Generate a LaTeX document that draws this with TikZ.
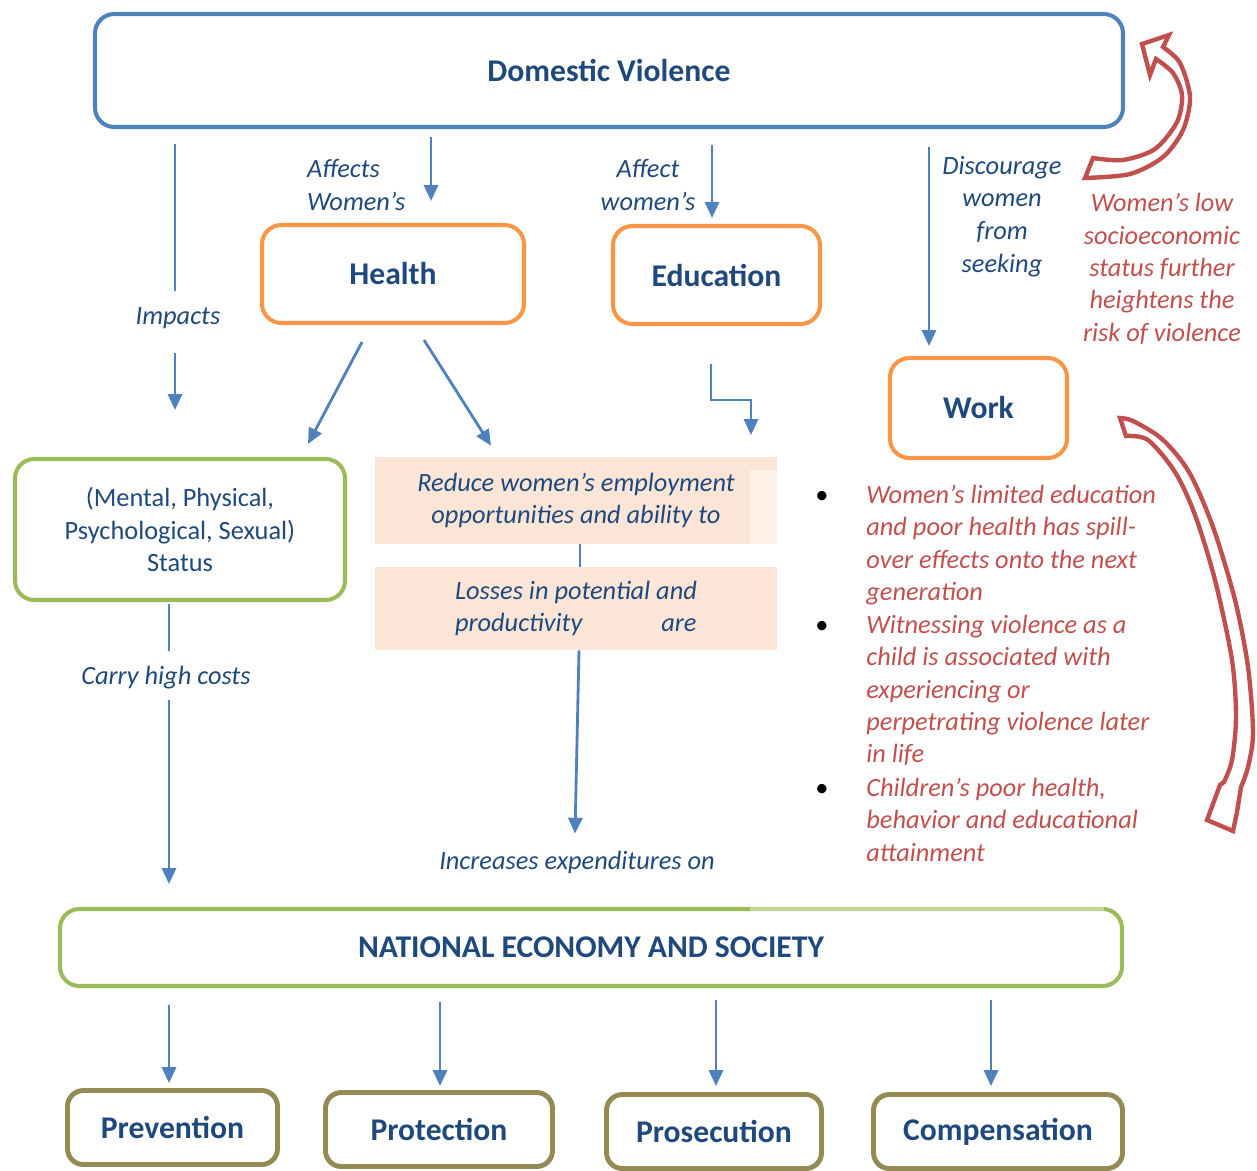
\documentclass[tikz,border=0pt]{standalone}
\usepackage{fontspec}
\setmainfont{Carlito}
\usetikzlibrary{positioning}
\usetikzlibrary{calc}
\usetikzlibrary{arrows.meta}
\definecolor{dvblue}{HTML}{4F81BD}
\definecolor{dvtext}{HTML}{1F497D}
\definecolor{dvorange}{HTML}{F79646}
\definecolor{dvgreen}{HTML}{9BBB59}
\definecolor{dvlight}{HTML}{C3D69B}
\definecolor{dvolive}{HTML}{948A54}
\definecolor{dvred}{HTML}{C0504D}
\definecolor{dvpeach}{HTML}{FBE5D6}
\definecolor{dvpeachlt}{HTML}{FDF1E8}
\newdimen\pxu \pxu=0.02cm
\newcommand{\lblfont}{\fontsize{15}{18.7}\selectfont\itshape}
\tikzset{>={Triangle[length=9pt,width=8pt]}}
\tikzset{
  box/.style={rectangle, rounded corners=11pt, fill=white, inner sep=0pt, text=dvtext,
    font=\fontsize{18}{22}\selectfont\bfseries},
  topbox/.style={box, draw=dvblue, line width=2.3pt},
  midbox/.style={box, draw=dvorange, line width=2.3pt},
  greenbox/.style={box, draw=dvgreen, line width=2.3pt},
  endbox/.style={box, draw=dvolive, line width=2.8pt, rounded corners=9pt},
  peachbox/.style={rectangle, fill=dvpeach, inner sep=0pt, text=dvtext, font=\lblfont},
  lbl/.style={text=dvtext, font=\lblfont, inner sep=1pt, align=center},
  redlbl/.style={text=dvred, font=\fontsize{15}{18.4}\selectfont\itshape, inner sep=0pt},
  conn/.style={draw=dvblue, line width=1.6pt},
  redarrow/.style={draw=dvred, line width=2.5pt, fill=white, line join=miter},
}

\begin{document}
\begin{tikzpicture}[x=0.02cm,y=-0.02cm]
	\useasboundingbox (0,0) rectangle (1257,1170);
	% boxes
	\node[topbox, minimum width=1028\pxu, minimum height=113\pxu] (dv) at (609,70.5) {Domestic Violence};
	\node[midbox, minimum width=262\pxu, minimum height=98\pxu] (health) at (393,274) {Health};
	\node[midbox, minimum width=207\pxu, minimum height=98\pxu] (educ) at (716.5,275) {Education};
	\node[midbox, minimum width=177\pxu, minimum height=100\pxu] (work) at (978.5,408) {Work};
	\node[greenbox, minimum width=330\pxu, minimum height=141\pxu, align=center,
	  font=\fontsize{15}{18.7}\selectfont] (status) at (180,529.5)
	  {(Mental, Physical,\\Psychological, Sexual)\\Status};
	\node[peachbox, minimum width=402\pxu, minimum height=87\pxu] (reduce) at (576,500.5) {};
	\fill[dvpeachlt] (750,470) rectangle (777,544);
	\node[lbl, inner sep=0pt] (reducetxt) at (reduce.center)
	  {Reduce women’s employment\\opportunities and ability to};
	\node[peachbox, minimum width=402\pxu, minimum height=83\pxu, align=left] (losses) at (576,608.5)
	  {Losses in potential and\\productivity\hspace{3em}are};
	\node[greenbox, minimum width=1062\pxu, minimum height=77\pxu] (nes) at (591,947.5) {NATIONAL ECONOMY AND SOCIETY};
	\draw[dvlight, line width=2.3pt] (750,909) -- (1104,909);
	\node[endbox, minimum width=210\pxu, minimum height=74\pxu] (prev) at (172.5,1127.5) {Prevention};
	\node[endbox, minimum width=227\pxu, minimum height=74\pxu] (prot) at (439,1129.5) {Protection};
	\node[endbox, minimum width=215\pxu, minimum height=74\pxu] (pros) at (714,1131.5) {Prosecution};
	\node[endbox, minimum width=249\pxu, minimum height=74\pxu] (comp) at (998,1131.5) {Compensation};

	% labels
	\node[lbl] (impacts) at (178,318) {Impacts};
	\node[lbl, align=left, anchor=west] (affects) at (305,185) {Affects\\Women’s};
	\node[lbl] (affect) at (648,185) {Affect\\women’s};
	\node[lbl] (discourage) at (1002,216.5) {Discourage\\women\\from\\seeking};
	\node[lbl] (carry) at (166,678) {Carry high costs};
	\node[lbl] (increases) at (577,862) {Increases expenditures on};
	\node[redlbl, align=center] (lowses) at (1162,269)
	  {Women’s low\\socioeconomic\\status further\\heightens the\\risk of violence};
	\node[redlbl, align=left, anchor=north west] (item1) at (866,485)
	  {Women’s limited education\\and poor health has spill-\\over effects onto the next\\generation};
	\node[redlbl, align=left, anchor=north west] (item2) at (866,615)
	  {Witnessing violence as a\\child is associated with\\experiencing or\\perpetrating violence later\\in life};
	\node[redlbl, align=left, anchor=north west] (item3) at (866,778)
	  {Children’s poor health,\\behavior and educational\\attainment};
	\node[font=\fontsize{15}{18}\selectfont] (dot1) at (822,497) {\textbullet};
	\node[font=\fontsize{15}{18}\selectfont] (dot2) at (822,627) {\textbullet};
	\node[font=\fontsize{15}{18}\selectfont] (dot3) at (822,790) {\textbullet};

	% connectors
	\draw[conn] ($(impacts.north |- dv.south)+(-3,15)$) -- ($(impacts.north)+(-3,-14)$);
	\draw[conn,->] ($(impacts.south)+(-3,22)$) -- ($(impacts.south |- status.north)+(-3,-47)$);
	\draw[conn,->] ($(health.north |- dv.south)+(38,8)$) -- ($(health.north)+(38,-22)$);
	\draw[conn,->] ($(educ.north |- dv.south)+(-4.5,16)$) -- ($(educ.north)+(-4.5,-6)$);
	\draw[conn,->] ($(work.north |- dv.south)+(-49.5,18)$) -- ($(work.north)+(-49.5,-10)$);
	\draw[conn,->] ($(health.south)+(-31,17)$) -- ($(status.north)+(128,-13)$);
	\draw[conn,->] ($(health.south)+(31,15)$) -- ($(reduce.north)+(-85,-11)$);
	\draw[conn,->] ($(educ.south)+(-5.5,38)$) -- ++(0,36) -- ++(40,0) -- ++(0,35);
	\draw[conn] ($(reduce.south)+(4,0)$) -- ($(losses.north)+(4,0)$);
	\draw[conn,->] ($(losses.south)+(3,0)$) -- ($(increases.north)+(-2,-15)$);
	\draw[conn] ($(status.south)+(-11,2)$) -- ($(carry.north)+(3,-13)$);
	\draw[conn,->] ($(carry.south)+(3,8)$) -- ($(carry.south |- nes.north)+(3,-23)$);
	\draw[conn,->] ($(prev.north |- nes.south)+(-3.5,17)$) -- ($(prev.north)+(-3.5,-5)$);
	\draw[conn,->] ($(prot.north |- nes.south)+(1,14)$) -- ($(prot.north)+(1,-4)$);
	\draw[conn,->] ($(pros.north |- nes.south)+(2,12)$) -- ($(pros.north)+(2,-6)$);
	\draw[conn,->] ($(comp.north |- nes.south)+(-7,12)$) -- ($(comp.north)+(-7,-6)$);

	% red block arrows
	\draw[redarrow] plot[smooth] coordinates {(1163,47) (1180,63) (1190,97) (1183,130) (1163,157) (1130,174) (1085,178)}
	  -- plot[smooth] coordinates {(1093,158) (1123,160) (1155,149) (1177,122) (1182,95) (1173,73) (1156,59)}
	  -- (1150,75) -- (1142,44) -- (1169,35) -- cycle;
	\draw[redarrow] plot[smooth] coordinates {(1120,418) (1133,421) (1162,439) (1189,472) (1213,527) (1235,600) (1248,667) (1253,733) (1248,767) (1241,787)}
	  -- (1237,812) -- (1233,831) -- (1207,820) -- (1220,785)
	  -- plot[smooth] coordinates {(1224,782) (1232,760) (1236,717) (1232,660) (1215,580) (1195,515) (1175,472) (1148,440) (1126,436)}
	  -- cycle;
\end{tikzpicture}
\end{document}
